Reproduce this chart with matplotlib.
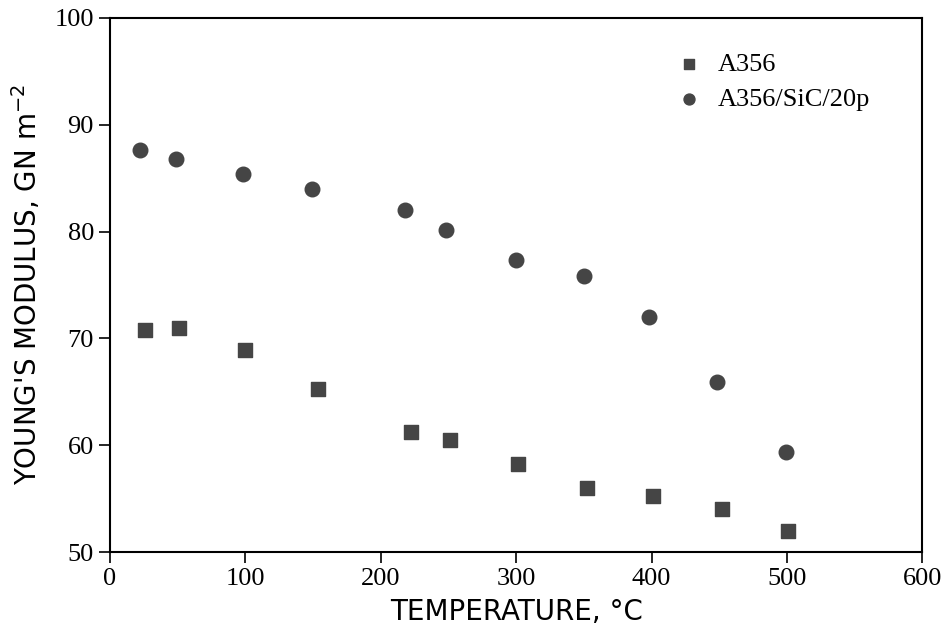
import numpy as np
import matplotlib
matplotlib.use("Agg")
import matplotlib.pyplot as plt

# A356 (unreinforced)
temp_a356 = [26, 51, 100, 154, 222, 251, 301, 352, 401, 452, 501]
E_a356 = [70.8, 71.0, 68.9, 65.3, 61.2, 60.5, 58.2, 56.0, 55.2, 54.0, 52.0]

# A356/SiC/20p
temp_sic = [22, 49, 98, 149, 218, 248, 300, 350, 398, 448, 499]
E_sic = [87.6, 86.8, 85.4, 84.0, 82.0, 80.1, 77.3, 75.8, 72.0, 65.9, 59.4]

xticks = [0, 100, 200, 300, 400, 500, 600]
yticks = [50, 60, 70, 80, 90, 100]

serif = "Liberation Serif"
sans = "DejaVu Sans"
mk = "#454545"

fig = plt.figure(figsize=(9.48, 6.36), dpi=100)
ax = fig.add_axes([0.116, 0.132, 0.857, 0.840])

ax.scatter(temp_a356, E_a356, marker="s", s=105, color=mk, label="A356")
ax.scatter(temp_sic, E_sic, marker="o", s=110, color=mk, label="A356/SiC/20p")

ax.set_xlim(0, 600)
ax.set_ylim(50, 100)
ax.set_xticks(xticks)
ax.set_yticks(yticks)
for sp in ax.spines.values():
    sp.set_linewidth(1.5)
ax.tick_params(direction="out", length=8, width=1.2, labelsize=19)
for lab in ax.get_xticklabels() + ax.get_yticklabels():
    lab.set_fontfamily(serif)

ax.set_xlabel("TEMPERATURE, °C", fontsize=20, family=sans, labelpad=6)
ax.set_ylabel("YOUNG'S MODULUS, GN m$^{-2}$", fontsize=20, family=sans, labelpad=8)

ax.legend(loc="upper right", bbox_to_anchor=(0.965, 0.98), frameon=False,
          prop={"family": serif, "size": 19}, handletextpad=0.1,
          labelspacing=0.45, markerscale=0.75)

plt.savefig("out.png", dpi=100)
